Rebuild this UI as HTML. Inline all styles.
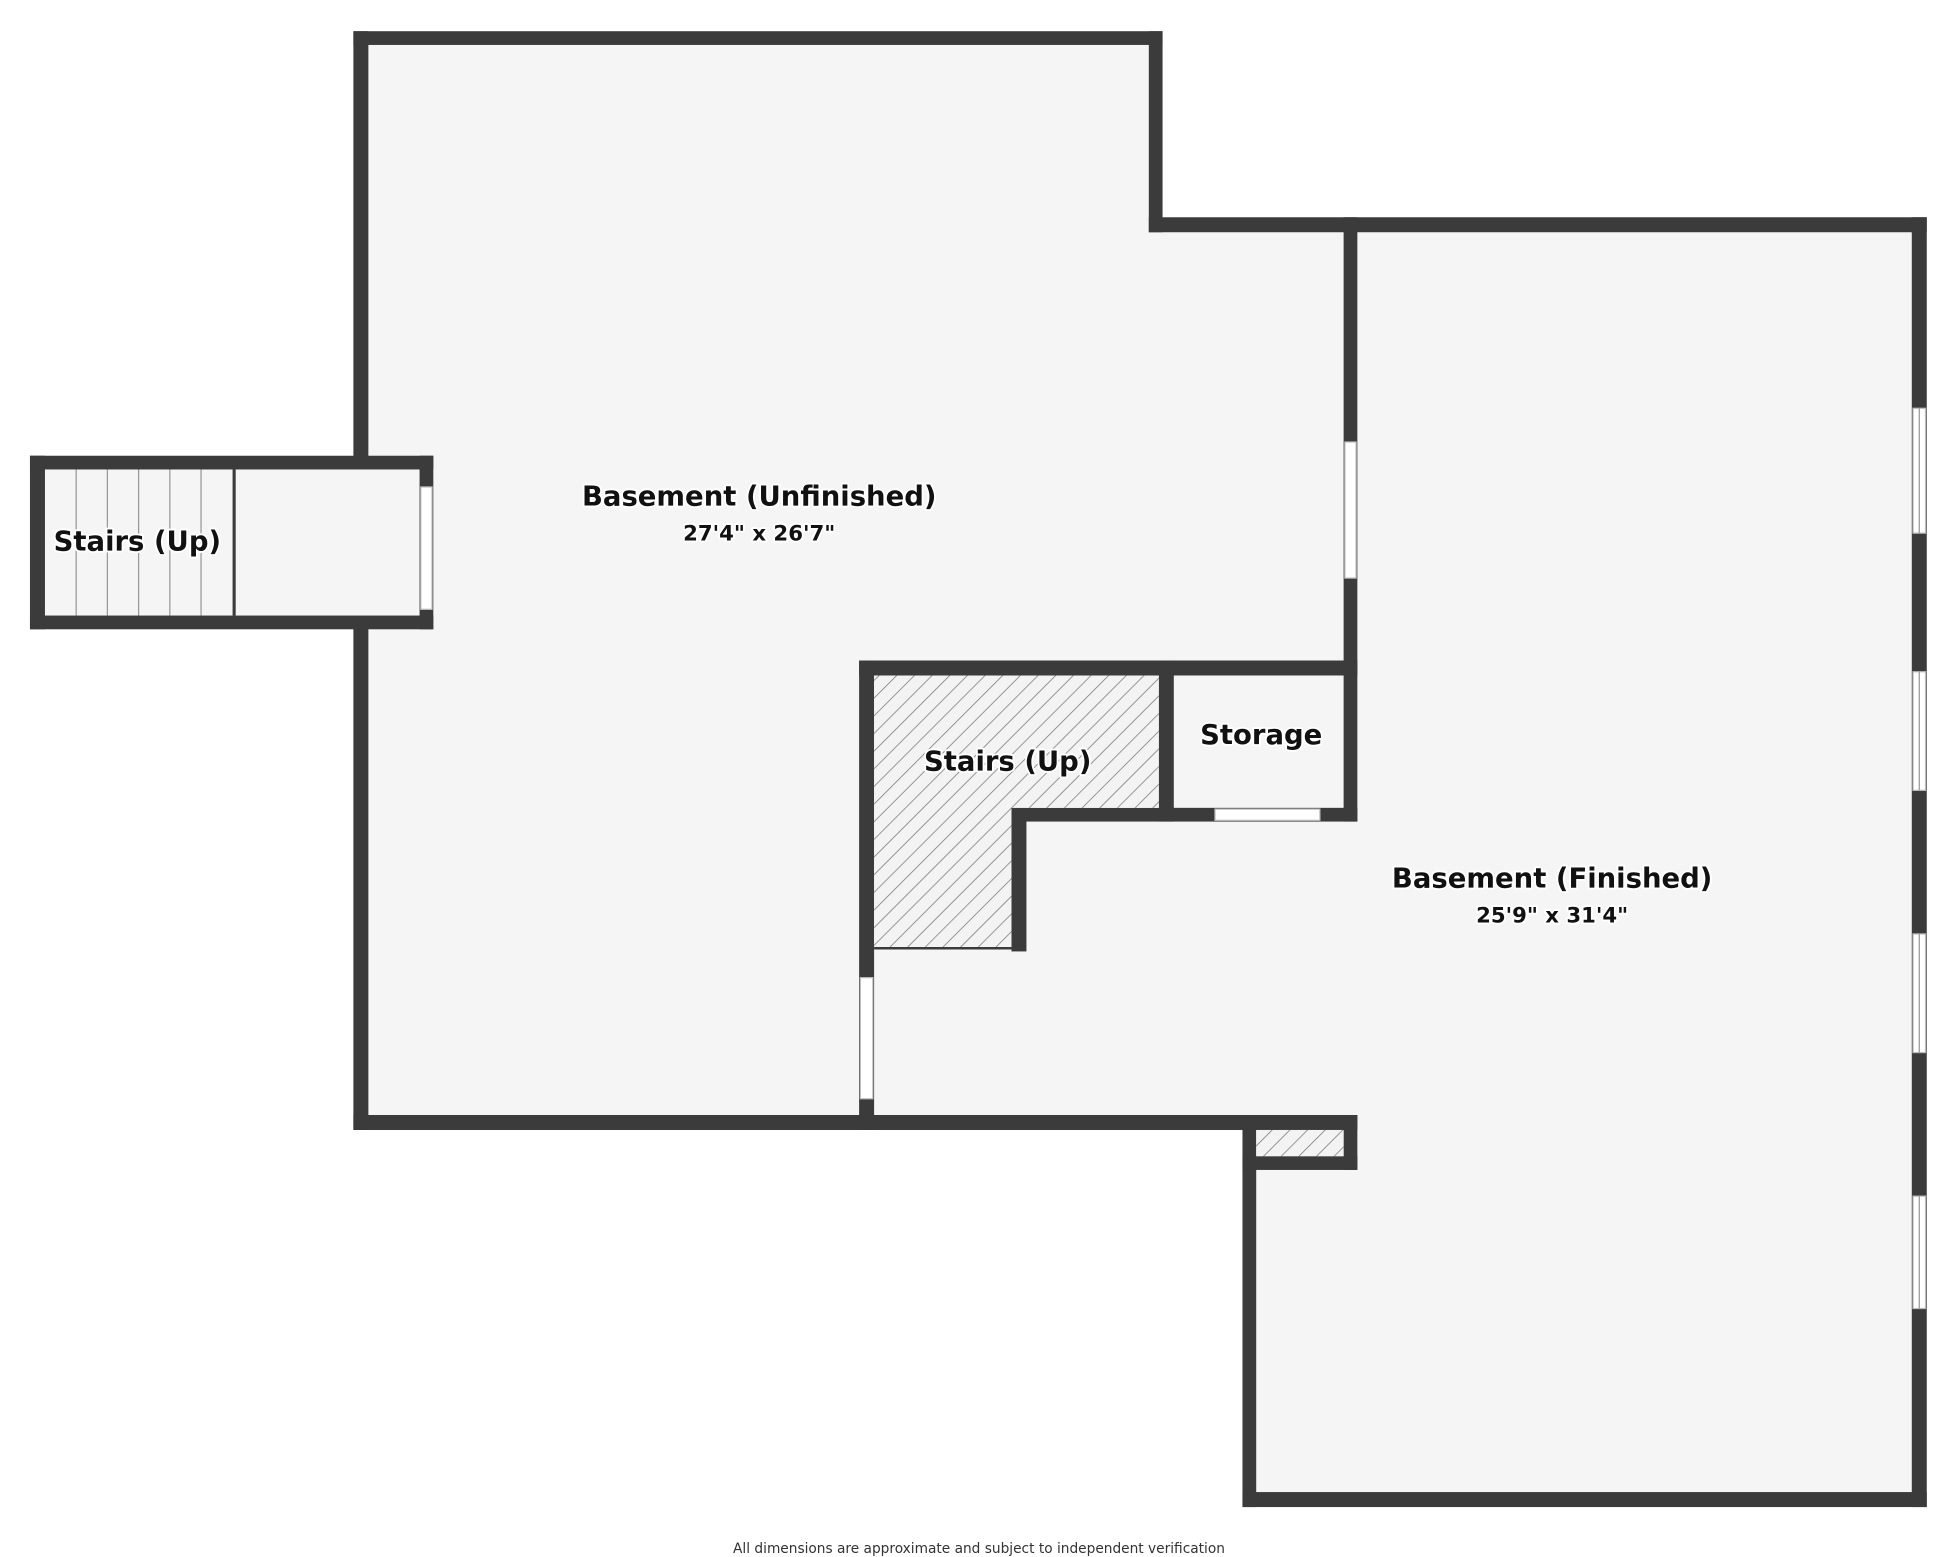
<!DOCTYPE html>
<html><head><meta charset="utf-8"><style>
html,body{margin:0;padding:0;background:#fff;}
svg{display:block;}
text{font-family:"DejaVu Sans","Liberation Sans",sans-serif;font-weight:bold;fill:#111;paint-order:stroke;stroke:#fff;stroke-width:3px;stroke-linejoin:round;}
</style></head><body>
<svg width="1943" height="1557" viewBox="0 0 1556 1247" preserveAspectRatio="none" xmlns="http://www.w3.org/2000/svg">
<defs>
<pattern id="h" patternUnits="userSpaceOnUse" width="10" height="10" patternTransform="rotate(45)">
<rect width="10" height="10" fill="#f3f3f3"/><line x1="0" y1="0" x2="0" y2="10" stroke="#777" stroke-width="1.2"/>
</pattern>
</defs>
<!-- floors -->
<polygon points="289,31 925,31 925,180 1537,180 1537,1201 1000,1201 1000,899 289,899" fill="#f5f5f5"/>
<rect x="30" y="371" width="312" height="127" fill="#f5f5f5"/>
<g fill="#3b3b3b">
<!-- unfinished outer -->
<rect x="283" y="25" width="648" height="11"/>
<rect x="283" y="25" width="12" height="343"/>
<rect x="283" y="502" width="12" height="403"/>
<rect x="920" y="25" width="11" height="161"/>
<rect x="920" y="174" width="623" height="12"/>
<rect x="1531" y="174" width="12" height="1033"/>
<rect x="995" y="1195" width="548" height="12"/>
<rect x="995" y="893" width="11" height="314"/>
<rect x="283" y="893" width="804" height="12"/>
<!-- closet -->
<rect x="1076" y="893" width="11" height="44"/>
<rect x="995" y="926" width="92" height="11"/>
<!-- interior wall -->
<rect x="1076" y="174" width="11" height="484"/>
<!-- stairs box -->
<rect x="688" y="529" width="399" height="12"/>
<rect x="688" y="529" width="12" height="376"/>
<rect x="928" y="529" width="12" height="129"/>
<rect x="810" y="647" width="277" height="11"/>
<rect x="810" y="647" width="12" height="115"/>
<!-- left stair box -->
<rect x="24" y="365" width="323" height="11"/>
<rect x="24" y="493" width="323" height="11"/>
<rect x="24" y="365" width="12" height="139"/>
<rect x="336" y="365" width="11" height="139"/>
</g>
<!-- hatch -->
<polygon points="700,541 928,541 928,647 810,647 810,759 700,759" fill="url(#h)"/>
<line x1="700" y1="759.5" x2="810" y2="759.5" stroke="#3b3b3b" stroke-width="2"/>
<rect x="1006" y="905" width="70" height="21" fill="url(#h)"/>
<!-- doors/windows -->
<g fill="#fff" stroke="#bbb" stroke-width="1">
<rect x="337" y="390" width="9" height="98"/>
<rect x="1077" y="354" width="9" height="109"/>
<rect x="689" y="783" width="10" height="97"/>
<rect x="973" y="648" width="84" height="9"/>
<rect x="1532" y="327" width="10" height="100"/>
<rect x="1532" y="538" width="10" height="95"/>
<rect x="1532" y="748" width="10" height="95"/>
<rect x="1532" y="958" width="10" height="90"/>
</g>
<g stroke="#999" stroke-width="1">
<line x1="1537" y1="327" x2="1537" y2="427"/><line x1="1537" y1="538" x2="1537" y2="633"/>
<line x1="1537" y1="748" x2="1537" y2="843"/><line x1="1537" y1="958" x2="1537" y2="1048"/>
<line x1="61" y1="376" x2="61" y2="493"/><line x1="86" y1="376" x2="86" y2="493"/>
<line x1="111" y1="376" x2="111" y2="493"/><line x1="136" y1="376" x2="136" y2="493"/>
<line x1="161" y1="376" x2="161" y2="493"/>
</g>
<line x1="187.5" y1="376" x2="187.5" y2="493" stroke="#3b3b3b" stroke-width="2.5"/>
<!-- labels -->
<text x="608" y="405" text-anchor="middle" font-size="22">Basement (Unfinished)</text>
<text x="608" y="433" text-anchor="middle" font-size="17" style="font-weight:bold">27'4" x 26'7"</text>
<text x="110" y="441" text-anchor="middle" font-size="22">Stairs (Up)</text>
<text x="807" y="617" text-anchor="middle" font-size="22">Stairs (Up)</text>
<text x="1010" y="596" text-anchor="middle" font-size="22">Storage</text>
<text x="1243" y="711" text-anchor="middle" font-size="22">Basement (Finished)</text>
<text x="1243" y="739" text-anchor="middle" font-size="17">25'9" x 31'4"</text>
<text x="784" y="1248" text-anchor="middle" font-size="11" style="font-weight:normal;stroke:none;fill:#333" dy="-4">All dimensions are approximate and subject to independent verification</text>
</svg>
</body></html>
